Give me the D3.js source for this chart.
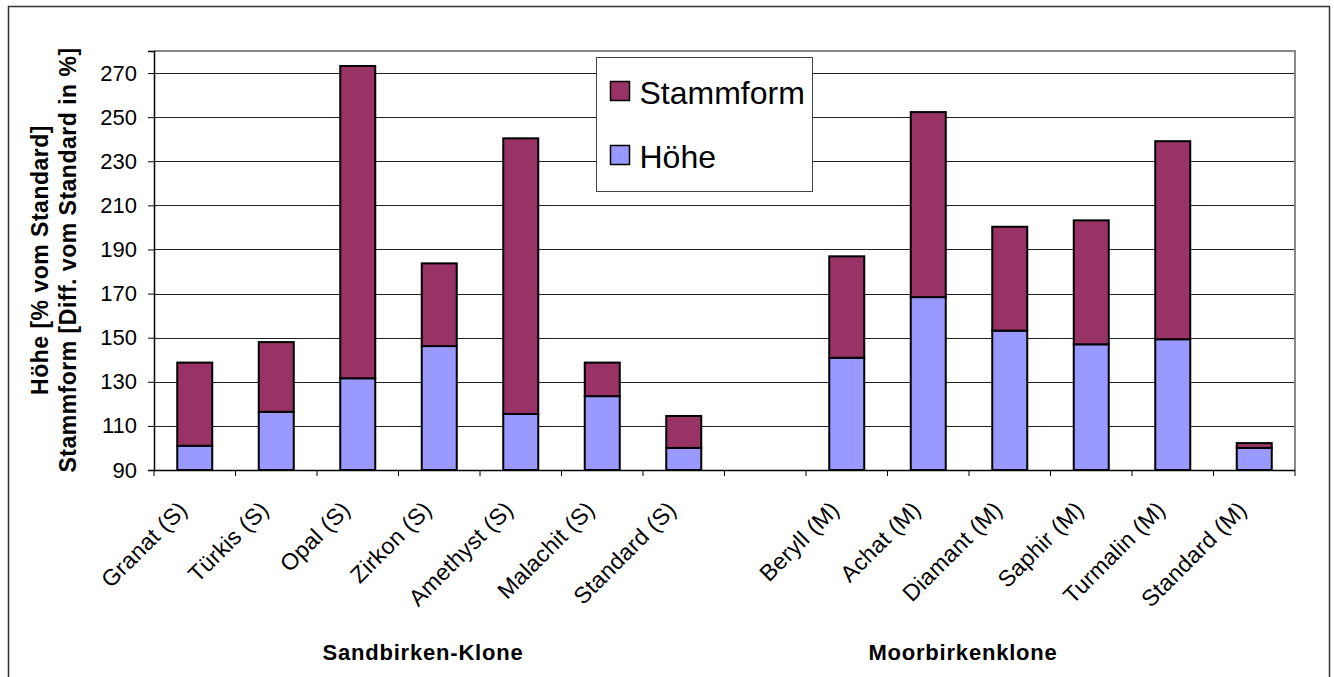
<!DOCTYPE html>
<html>
<head>
<meta charset="utf-8">
<script src="https://cdn.jsdelivr.net/npm/d3@7"></script>
<style>
  html, body { margin: 0; padding: 0; background: #fff; }
  svg { display: block; font-family: "Liberation Sans", Arial, sans-serif; }
</style>
</head>
<body>
<svg id="chart" width="1334" height="677"></svg>
<script>
// ---- data ----
const sandCategories = ["Granat (S)", "Türkis (S)", "Opal (S)", "Zirkon (S)", "Amethyst (S)", "Malachit (S)", "Standard (S)"];
const moorCategories = ["Beryll (M)", "Achat (M)", "Diamant (M)", "Saphir (M)", "Turmalin (M)", "Standard (M)"];
const hoeheSand = [101, 116.4, 131.6, 146.2, 115.4, 123.5, 100];
const stammSand = [37.7, 31.6, 141.6, 37.5, 125, 15.2, 14.5];
const hoeheMoor = [140.9, 168.4, 153.2, 147.0, 149.3, 100];
const stammMoor = [46.0, 83.9, 47.1, 56.2, 89.8, 2.2];
const yTicks = [90, 110, 130, 150, 170, 190, 210, 230, 250, 270];
const yDomain = [90, 280];
const seriesNames = ["Stammform", "Höhe"];
const seriesColors = ["#993366", "#9999FF"];
const groupLabels = ["Sandbirken-Klone", "Moorbirkenklone"];
const yTitleLines = ["Höhe [% vom Standard]", "Stammform [Diff. vom Standard in %]"];

// ---- build ----
const GAP = "__gap__";
const domain = [...sandCategories, GAP, ...moorCategories];
const rows = [
  ...sandCategories.map((c, i) => ({cat: c, h: hoeheSand[i], s: stammSand[i]})),
  ...moorCategories.map((c, i) => ({cat: c, h: hoeheMoor[i], s: stammMoor[i]}))
];

const svg = d3.select("#chart");
const L = 154, R = 1295, T = 51, B = 470;

const x = d3.scaleBand().domain(domain).range([L, R]).paddingInner(0).paddingOuter(0);
const y = d3.scaleLinear().domain(yDomain).range([B, T]);

// outer frame
svg.append("rect").attr("x", 8.5).attr("y", 6.5).attr("width", 1321).attr("height", 700)
  .attr("fill", "none").attr("stroke", "#333").attr("stroke-width", 1.5);

// gridlines
svg.append("g").selectAll("line").data(yTicks.filter(t => t > yDomain[0])).join("line")
  .attr("x1", L).attr("x2", R)
  .attr("y1", d => Math.round(y(d)) + 0.5).attr("y2", d => Math.round(y(d)) + 0.5)
  .attr("stroke", "#222").attr("stroke-width", 1);

// plot border (top/right gray)
svg.append("path")
  .attr("d", `M${L},${T}H${R}V${B}`)
  .attr("fill", "none").attr("stroke", "#888").attr("stroke-width", 2);

// stacked bars
const bw = 35;
const stackData = d3.stack().keys(["h", "s"])(rows.map(r => ({cat: r.cat, h: r.h, s: r.s})));
const colorFor = {h: seriesColors[1], s: seriesColors[0]};
stackData.forEach(layer => {
  svg.append("g").selectAll("rect").data(layer).join("rect")
    .attr("x", d => x(d.data.cat) + x.bandwidth() / 2 - bw / 2)
    .attr("width", bw)
    .attr("y", d => y(Math.max(d[1], yDomain[0])))
    .attr("height", d => y(Math.max(d[0], yDomain[0])) - y(Math.max(d[1], yDomain[0])))
    .attr("fill", colorFor[layer.key])
    .attr("stroke", "#000").attr("stroke-width", 2);
});

// y axis
const yAxis = d3.axisLeft(y).tickValues(yTicks).tickSize(6).tickPadding(11).tickFormat(d3.format("d"));
const gy = svg.append("g").attr("transform", `translate(${L},0)`).call(yAxis);
gy.select(".domain").attr("stroke", "#000").attr("stroke-width", 1.5);
gy.selectAll(".tick line").attr("stroke", "#000");
gy.selectAll(".tick text").attr("font-size", 22).attr("fill", "#000")
  .attr("font-family", "Liberation Sans, Arial, sans-serif");

// x axis: ticks at band boundaries
const gx = svg.append("g");
gx.append("line").attr("x1", L).attr("x2", R).attr("y1", B + 0.5).attr("y2", B + 0.5)
  .attr("stroke", "#000").attr("stroke-width", 1.5);
const boundaries = domain.map(d => x(d)).concat([R]);
gx.selectAll("line.tk").data(boundaries).join("line").attr("class", "tk")
  .attr("x1", d => d).attr("x2", d => d).attr("y1", B).attr("y2", B + 6)
  .attr("stroke", "#000");

// x labels
svg.append("g").selectAll("text").data(rows).join("text")
  .attr("transform", d => `translate(${x(d.cat) + x.bandwidth() / 2 - 6},${B + 41}) rotate(-45)`)
  .attr("text-anchor", "end")
  .attr("font-size", 23)
  .attr("letter-spacing", 0.3)
  .attr("fill", "#000")
  .text(d => d.cat);

// group labels
const sandMid = 423, moorMid = 963;
svg.append("text").attr("x", sandMid).attr("y", 660).attr("text-anchor", "middle")
  .attr("font-size", 22).attr("font-weight", "bold").attr("letter-spacing", 0.8).text(groupLabels[0]);
svg.append("text").attr("x", moorMid).attr("y", 660).attr("text-anchor", "middle")
  .attr("font-size", 22).attr("font-weight", "bold").attr("letter-spacing", 0.8).text(groupLabels[1]);

// y title
const yt = svg.append("text").attr("transform", `translate(0,260) rotate(-90)`)
  .attr("text-anchor", "middle").attr("font-weight", "bold").attr("font-size", 23)
  .attr("letter-spacing", 0.5);
yt.append("tspan").attr("x", 0).attr("y", 48).text(yTitleLines[0]);
yt.append("tspan").attr("x", 0).attr("y", 76).text(yTitleLines[1]);

// legend
const lg = svg.append("g").attr("transform", "translate(596.5,57.5)");
lg.append("rect").attr("width", 216).attr("height", 134).attr("fill", "#fff")
  .attr("stroke", "#444").attr("stroke-width", 1);
seriesNames.forEach((name, i) => {
  const yy = 24 + i * 64;
  lg.append("rect").attr("x", 14).attr("y", yy).attr("width", 19).attr("height", 19)
    .attr("fill", seriesColors[i]).attr("stroke", "#000").attr("stroke-width", 1.5);
  lg.append("text").attr("x", 43).attr("y", yy + 22).attr("font-size", 32).attr("fill", "#000").text(name);
});
</script>
</body>
</html>
